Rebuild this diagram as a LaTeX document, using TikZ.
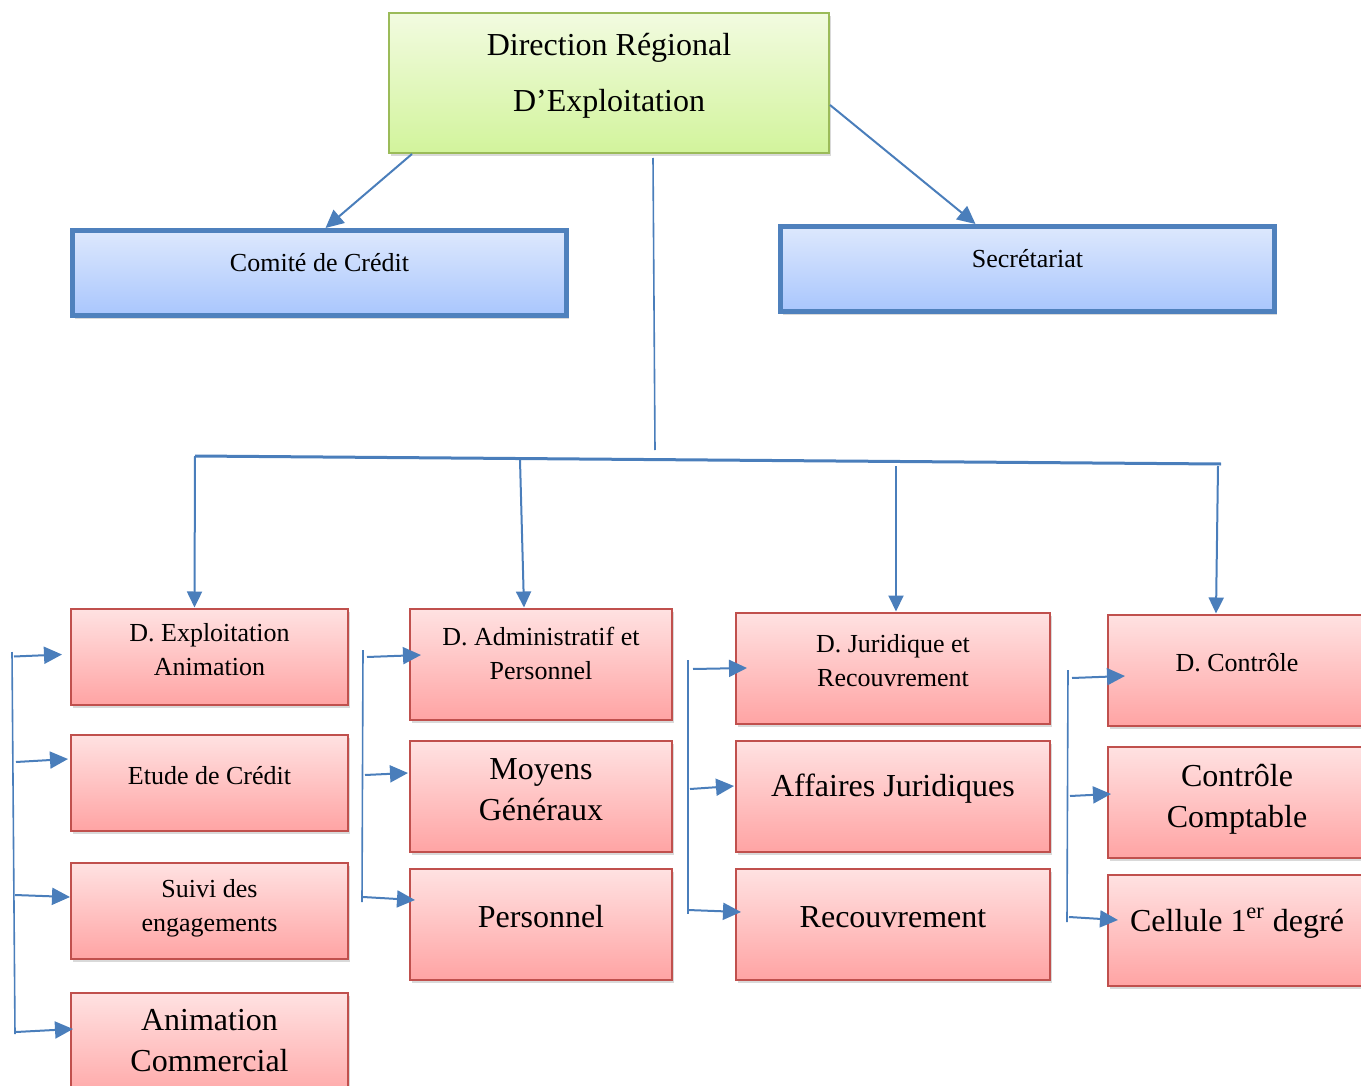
\documentclass[tikz,border=0pt]{standalone}
\usepackage{fontspec}
\setmainfont{Liberation Serif}
\usetikzlibrary{arrows.meta,calc,shadows}
\definecolor{bleufleche}{HTML}{4A7EBB}
\definecolor{vertbord}{HTML}{9BBB59}
\definecolor{verthaut}{HTML}{F2FBE0}
\definecolor{vertbas}{HTML}{D2F49C}
\definecolor{bleubord}{HTML}{4F81BD}
\definecolor{bleuhaut}{HTML}{DDE8FD}
\definecolor{bleubas}{HTML}{A9C6FD}
\definecolor{rougebord}{HTML}{C0504D}
\definecolor{rougehaut}{HTML}{FFE2E2}
\definecolor{rougebas}{HTML}{FFA4A4}
\tikzset{
>={Triangle[length=9pt,width=8.5pt]},
ombre/.style={drop shadow={shadow xshift=1pt,shadow yshift=-1.5pt,opacity=.3}},
direction/.style={draw=vertbord,line width=1pt,top color=verthaut,bottom color=vertbas,minimum width=220pt,minimum height=70pt,ombre},
cadre/.style={draw=bleubord,line width=2.5pt,top color=bleuhaut,bottom color=bleubas,minimum width=247pt,minimum height=42.5pt,ombre},
service/.style={draw=rougebord,line width=1pt,top color=rougehaut,bottom color=rougebas,minimum height=55.5pt,ombre},
titre/.style={align=center,font=\fontsize{16}{28}\selectfont,yshift=3.5pt},
moyen/.style={font=\fontsize{13}{17}\selectfont,yshift=5pt},
petit/.style={align=center,font=\fontsize{13}{17}\selectfont,yshift=3.5pt},
grand/.style={align=center,font=\fontsize{16}{20.5}\selectfont,yshift=3.5pt},
fleche/.style={->,color=bleufleche,line width=1pt},
trait/.style={draw=bleufleche,line width=.8pt}}

\begin{document}
\begin{tikzpicture}[x=0.5pt,y=-0.5pt]
\useasboundingbox (0,0) rectangle (1361,1086);
\clip (0,0) rectangle (1361,1086);

\node[direction,label={[titre]center:Direction Régional\\D’Exploitation}] (dre) at (609,83) {};
\node[cadre,label={[moyen]center:Comité de Crédit}] (comite) at (319.5,273) {};
\node[cadre,label={[moyen]center:Secrétariat}] (secr) at (1027.5,269) {};

\node[service,minimum width=138.5pt,minimum height=48pt,label={[petit]center:D. Exploitation\\Animation}] (dexp) at (209.5,656.5) {};
\node[service,minimum width=138.5pt,minimum height=48pt,label={[petit]center:Etude de Crédit}] (etude) at (209.5,782.5) {};
\node[service,minimum width=138.5pt,minimum height=48pt,label={[petit,yshift=-2.5pt]center:Suivi des\\engagements}] (suivi) at (209.5,910.5) {};
\node[service,minimum width=138.5pt,label={[grand]center:Animation\\Commercial}] (anim) at (209.5,1048) {};

\node[service,minimum width=131pt,label={[petit,yshift=2pt]center:D. Administratif et\\Personnel}] (dadm) at (541,664) {};
\node[service,minimum width=131pt,label={[grand]center:Moyens\\Généraux}] (moyens) at (541,796.5) {};
\node[service,minimum width=131pt,label={[grand]center:Personnel}] (perso) at (541,924) {};

\node[service,minimum width=157pt,label={[petit]center:D. Juridique et\\Recouvrement}] (djur) at (893,668) {};
\node[service,minimum width=157pt,label={[grand]center:Affaires Juridiques}] (affaires) at (893,796) {};
\node[service,minimum width=157pt,label={[grand]center:Recouvrement}] (recouv) at (893,924) {};

\node[service,minimum width=129pt,label={[petit]center:D. Contrôle}] (dctl) at (1237,670) {};
\node[service,minimum width=129pt,label={[grand,yshift=-2pt]center:Contrôle\\Comptable}] (comptable) at (1237,802) {};
\node[service,minimum width=129pt,label={[grand]center:Cellule 1\textsuperscript{er} degré}] (cellule) at (1237,930) {};

\coordinate (c) at (655,450);
\coordinate (bg) at (195,456);
\coordinate (bd) at (1221,464);
\coordinate (b2) at (520,460);
\coordinate (b3) at (896,466);
\coordinate (b4) at (1218,466);
\coordinate (k1h) at (12,652);
\coordinate (k1b) at (15,1034);
\coordinate (k2h) at (363,650);
\coordinate (k2b) at (362,902);
\coordinate (k3h) at (688,660);
\coordinate (k3b) at (688,914);
\coordinate (k4h) at (1068,670);
\coordinate (k4b) at (1067,922);

\draw[fleche] ([xshift=12pt]dre.south west) -- ([xshift=3pt]comite.north);
\draw[fleche] ([yshift=-11pt]dre.east) -- ([xshift=-26pt]secr.north);
\draw[trait] ([xshift=22pt,yshift=-2pt]dre.south) -- (c);
\draw[trait,line width=1.5pt] (bg) -- (bd);

\path[fleche,>={Triangle[length=8pt,width=7.5pt]}]
	(bg) edge ([xshift=-7.5pt]dexp.north)
	(b2) edge ([xshift=-8.5pt]dadm.north)
	(b3) edge ([xshift=1.5pt]djur.north)
	(b4) edge ([xshift=-10.5pt]dctl.north);

\draw[trait] (k1h) -- (k1b);
\draw[trait] (k2h) -- (k2b);
\draw[trait] (k3h) -- (k3b);
\draw[trait] (k4h) -- (k4b);

\path[fleche]
	($(dexp.west -| k1h)+(2,0)$) edge ($(dexp.west)+(-8,-2)$)
	($(etude.west -| k1h)+(4,-20.5)$) edge ($(etude.west)+(-2,-23.5)$)
	($(suivi.west -| k1h)+(3,-15.5)$) edge ($(suivi.west)+(0,-13.5)$)
	($(anim.west -| k1h)+(4,-16)$) edge ($(anim.west)+(3,-19)$)
	($(dadm.west -| k2h)+(4,-7)$) edge ($(dadm.west)+(12,-9)$)
	($(moyens.west -| k2h)+(2,-21.5)$) edge ($(moyens.west)+(-1,-23.5)$)
	($(perso.west -| k2h)+(0,-27)$) edge ($(perso.west)+(6,-24)$)
	($(djur.west -| k3h)+(5,1)$) edge ($(djur.west)+(12,0)$)
	($(affaires.west -| k3h)+(2,-7)$) edge ($(affaires.west)+(-1,-10)$)
	($(recouv.west -| k3h)+(0,-14)$) edge ($(recouv.west)+(6,-12)$)
	($(dctl.west -| k4h)+(4,8)$) edge ($(dctl.west)+(18,6)$)
	($(comptable.west -| k4h)+(2,-6)$) edge ($(comptable.west)+(4,-8)$)
	($(cellule.west -| k4h)+(1,-13)$) edge ($(cellule.west)+(11,-10)$);
\end{tikzpicture}
\end{document}
